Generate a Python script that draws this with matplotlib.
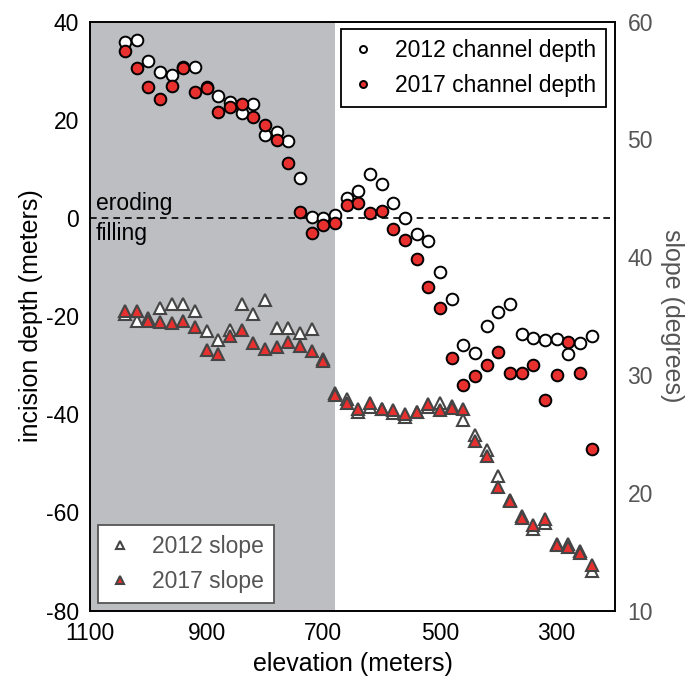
import numpy as np
import matplotlib
matplotlib.use("Agg")
import matplotlib.pyplot as plt

plt.rcParams['font.family'] = ['Liberation Sans', 'DejaVu Sans']
plt.rcParams['axes.unicode_minus'] = False

# elevation of each station (m)
elevation = [1040, 1020, 1000, 980, 960, 940, 920, 900, 880, 860, 840, 820, 800, 780,
             760, 740, 720, 700, 680, 660, 640, 620, 600, 580, 560, 540, 520, 500,
             480, 460, 440, 420, 400, 380, 360, 340, 320, 300, 280, 260, 240]

depth_2012 = [35.9, 36.3, 32.0, 29.7, 29.1, 30.8, 30.8, 26.6, 24.8, 23.7, 21.3, 23.2, 16.8, 17.6,
              15.6, 8.1, 0.1, -0.1, 0.6, 4.1, 5.4, 9.0, 7.0, 3.0, 0.0, -3.3, -4.7, -11.1,
              -16.6, -25.9, -27.6, -22.0, -19.2, -17.6, -23.7, -24.4, -24.9, -24.7, -27.8, -25.5, -24.0]

depth_2017 = [33.9, 30.6, 26.7, 24.3, 26.9, 30.5, 25.6, 26.5, 21.6, 22.5, 23.2, 20.6, 19.0, 15.8,
              11.2, 1.3, -3.1, -1.5, -1.0, 2.6, 3.1, 1.1, 1.4, -2.2, -4.5, -8.4, -14.0, -18.4,
              -28.6, -34.0, -32.1, -30.0, -27.4, -31.6, -31.6, -30.0, -37.1, -31.9, -25.2, -31.6, -47.0]

slope_2012 = [35.2, 34.6, 34.8, 35.7, 36.0, 36.0, 35.4, 33.7, 33.0, 33.8, 36.0, 35.2, 36.4, 34.0,
              34.0, 33.6, 33.9, 31.4, 28.5, 28.0, 26.9, 27.3, 27.1, 26.8, 26.4, 26.9, 27.3, 27.6,
              27.4, 26.2, 24.9, 23.6, 21.4, 19.4, 18.0, 16.9, 17.4, 15.7, 15.7, 15.1, 13.4]

slope_2017 = [35.4, 35.4, 34.6, 34.5, 34.4, 34.6, 34.1, 32.1, 31.8, 33.3, 33.8, 32.7, 32.2, 32.4,
              32.8, 32.5, 32.0, 31.2, 28.3, 27.6, 27.1, 27.6, 27.1, 27.0, 26.7, 26.9, 27.5, 27.0,
              27.2, 27.1, 24.4, 23.1, 20.5, 19.3, 17.9, 17.3, 17.8, 15.6, 15.4, 14.9, 13.9]

red = '#e8302f'
tri_edge = '#454545'
grey_txt = '#555555'

fig = plt.figure(figsize=(6.88, 6.79), dpi=100)
ax = fig.add_axes([0.1308, 0.1006, 0.7631, 0.8677])

# shaded upper reach
ax.axvspan(1100, 680, color='#bdbec2', lw=0, zorder=0)
ax.axhline(0, color='k', ls=(0, (4, 3)), lw=1.2, zorder=1)

ax.plot(elevation, depth_2012, 'o', ms=8.4, mfc='white', mec='k', mew=1.4,
        label='2012 channel depth', zorder=3)
ax.plot(elevation, depth_2017, 'o', ms=8.4, mfc=red, mec='k', mew=1.4,
        label='2017 channel depth', zorder=4)

ax.text(1090, 1.6, 'eroding', fontsize=16.5, va='baseline', ha='left')
ax.text(1090, -4.6, 'filling', fontsize=16.5, va='baseline', ha='left')

ax.set_xlim(1100, 200)
ax.set_ylim(-80, 40)
ax.set_xticks([1100, 900, 700, 500, 300])
ax.set_yticks([-80, -60, -40, -20, 0, 20, 40])
ax.tick_params(length=0, labelsize=16.5, pad=8)
ax.set_xlabel('elevation (meters)', fontsize=18, labelpad=5)
ax.set_ylabel('incision depth (meters)', fontsize=18, labelpad=2)

ax2 = ax.twinx()
ax2.plot(elevation, slope_2012, '^', ms=8, mfc='white', mec=tri_edge, mew=1.5,
         label='2012 slope', zorder=3)
ax2.plot(elevation, slope_2017, '^', ms=8, mfc=red, mec=tri_edge, mew=1.5,
         label='2017 slope', zorder=4)
ax2.set_ylim(10, 60)
ax2.set_yticks([10, 20, 30, 40, 50, 60])
ax2.tick_params(length=0, labelsize=16.5, pad=9, labelcolor=grey_txt)
ax2.set_ylabel('slope (degrees)', fontsize=18, color=grey_txt, rotation=270,
               labelpad=22)

for a in (ax, ax2):
    for s in a.spines.values():
        s.set_linewidth(1.2)

h1, l1 = ax.get_legend_handles_labels()
leg1 = ax2.legend(h1, l1, loc='upper right', bbox_to_anchor=(0.983, 0.987),
                  borderaxespad=0, fontsize=16.5, markerscale=0.6, fancybox=False,
                  edgecolor='k', framealpha=1, handlelength=1.0, handletextpad=0.9,
                  labelspacing=0.5, borderpad=0.45)
leg1.get_frame().set_linewidth(1.3)
ax2.add_artist(leg1)

leg2 = ax2.legend(loc='lower left', bbox_to_anchor=(0.015, 0.013), borderaxespad=0,
                  fontsize=16.5, markerscale=0.65, fancybox=False, edgecolor=grey_txt,
                  framealpha=1, handlelength=1.0, handletextpad=0.9,
                  labelspacing=0.5, borderpad=0.45, labelcolor=grey_txt)
leg2.get_frame().set_linewidth(1.3)

plt.savefig('out.png', dpi=100)
